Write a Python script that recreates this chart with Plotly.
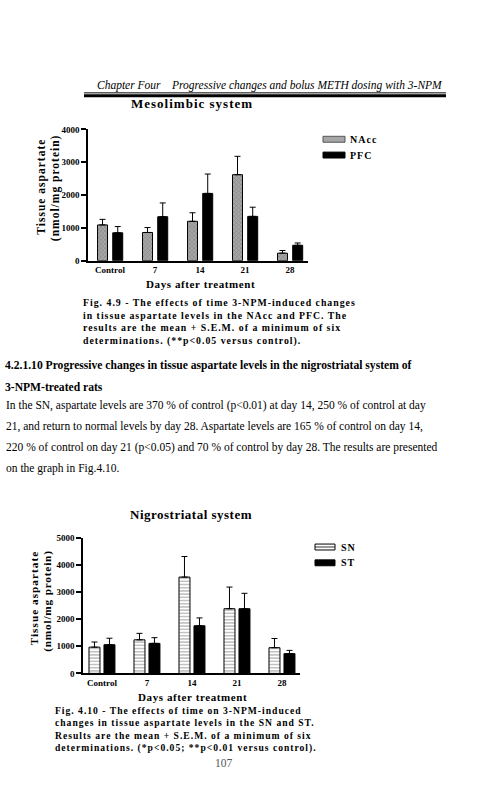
import plotly.graph_objects as go

W, H = 500, 786
SERIF = "Liberation Serif, Times New Roman, serif"

# ---------------- data ----------------
days = ["Control", "7", "14", "21", "28"]

nacc = [1090, 860, 1200, 2620, 230]
nacc_sem = [170, 150, 260, 560, 80]
pfc = [850, 1340, 2050, 1350, 470]
pfc_sem = [190, 420, 590, 280, 70]

sn = [970, 1240, 3560, 2390, 950]
sn_sem = [190, 240, 760, 800, 340]
st = [1060, 1110, 1760, 2390, 730]
st_sem = [240, 210, 290, 570, 120]

y1_ticks = [0, 1000, 2000, 3000, 4000]
y2_ticks = [0, 1000, 2000, 3000, 4000, 5000]


def px(x):
    return x / W


def py(y):
    return 1 - y / H


def spaced(s, ls=1.0):
    return '<span style="letter-spacing:%spx">%s</span>' % (ls, s)


fig = go.Figure()

err_style = dict(type="data", symmetric=False, color="black", thickness=1, width=3)

# ---- chart 1 (Mesolimbic) ----
fig.add_trace(go.Bar(
    x=days, y=nacc, name="NAcc", xaxis="x", yaxis="y",
    width=0.222, offset=-0.278,
    marker=dict(color="#a6a6a6", line=dict(color="black", width=1),
                pattern=dict(shape="x", fgcolor="#555555", size=3, solidity=0.3)),
    error_y=dict(array=nacc_sem, arrayminus=[0] * 5, **err_style),
    showlegend=False))
fig.add_trace(go.Bar(
    x=days, y=pfc, name="PFC", xaxis="x", yaxis="y",
    width=0.222, offset=0.06,
    marker=dict(color="black", line=dict(color="black", width=1)),
    error_y=dict(array=pfc_sem, arrayminus=[0] * 5, **err_style),
    showlegend=False))

# ---- chart 2 (Nigrostriatal) ----
fig.add_trace(go.Bar(
    x=days, y=sn, name="SN", xaxis="x2", yaxis="y2",
    width=0.244, offset=-0.289,
    marker=dict(color="white", line=dict(color="black", width=1),
                pattern=dict(shape="-", fgcolor="#333333", bgcolor="white", size=3.2, solidity=0.3)),
    error_y=dict(array=sn_sem, arrayminus=[0] * 5, **err_style),
    showlegend=False))
fig.add_trace(go.Bar(
    x=days, y=st, name="ST", xaxis="x2", yaxis="y2",
    width=0.244, offset=0.044,
    marker=dict(color="black", line=dict(color="black", width=1)),
    error_y=dict(array=st_sem, arrayminus=[0] * 5, **err_style),
    showlegend=False))

tickfont = dict(family=SERIF, size=9, color="black", weight="bold")
axis_common = dict(showgrid=False, zeroline=False, showline=True, linecolor="black",
                   linewidth=1.5, tickfont=tickfont, fixedrange=True)

fig.update_layout(
    width=W, height=H, margin=dict(l=0, r=0, t=0, b=0),
    paper_bgcolor="white", plot_bgcolor="white",
    barmode="overlay",
    xaxis=dict(domain=[px(88), px(308)], anchor="y", type="category",
               range=[-0.49, 4.4], ticks="", **axis_common),
    yaxis=dict(domain=[py(259), py(126)], anchor="x", range=[0, 4000],
               tickvals=y1_ticks, ticks="outside", ticklen=5, tickwidth=1.5,
               tickcolor="black", **axis_common),
    xaxis2=dict(domain=[px(83), px(300)], anchor="y2", type="category",
                range=[-0.422, 4.4], ticks="", **axis_common),
    yaxis2=dict(domain=[py(677), py(540)], anchor="x2", range=[0, 5000],
                tickvals=y2_ticks, ticks="outside", ticklen=5, tickwidth=1.5,
                tickcolor="black", **axis_common),
)

ann = []


def text(x, y, s, size=11, bold=True, italic=False, xanchor="left", angle=0, color="black"):
    ann.append(dict(
        x=px(x), y=py(y), xref="paper", yref="paper", text=s, showarrow=False,
        xanchor=xanchor, yanchor="middle", textangle=angle, align="left",
        font=dict(family=SERIF, size=size, color=color,
                  weight="bold" if bold else "normal",
                  style="italic" if italic else "normal")))


# header
text(95, 82, "Chapter Four", size=11.5, bold=False, italic=True)
text(445, 82, "Progressive changes and bolus METH dosing with 3-NPM", size=11.5, bold=False,
     italic=True, xanchor="right")

# chart 1 texts
text(192, 100, spaced("Mesolimbic system", 1.0), size=13, xanchor="center")
text(42, 184, spaced("Tissue aspartate", 1.0), size=11.5, xanchor="center", angle=-90)
text(55.5, 185, spaced("(nmol/mg protein)", 1.0), size=11.5, xanchor="center", angle=-90)
text(200, 283, spaced("Days after treatment", 0.6), size=11, xanchor="center")
text(348, 136, spaced("NAcc", 1.0), size=10)
text(348, 152, spaced("PFC", 1.0), size=10)

cap1 = ["Fig. 4.9 - The effects of time 3-NPM-induced changes",
        "in tissue aspartate levels in the NAcc and PFC. The",
        "results are the mean + S.E.M. of a minimum of six",
        "determinations. (**p<0.05 versus control)."]
text(81, 321, "<br>".join(spaced(s, 1.0) for s in cap1), size=9.8)

text(3, 365, "4.2.1.10 Progressive changes in tissue aspartate levels in the nigrostriatal system of", size=11.6)
text(3, 387, "3-NPM-treated rats", size=11.6)
body = ["In the SN, aspartate levels are 370 % of control (p<0.01) at day 14, 250 % of control at day",
        "21, and return to normal levels by day 28. Aspartate levels are 165 % of control on day 14,",
        "220 % of control on day 21 (p<0.05) and 70 % of control by day 28. The results are presented",
        "on the graph in Fig.4.10."]
for i, s in enumerate(body):
    text(4, 406 + i * 21, s, size=11.5, bold=False)

# chart 2 texts
text(191, 516, spaced("Nigrostriatal system", 0.5), size=13, xanchor="center")
text(34, 601, spaced("Tissue aspartate", 1.0), size=11.3, xanchor="center", angle=-90)
text(47.5, 604, spaced("(nmol/mg protein)", 0.8), size=11.3, xanchor="center", angle=-90)
text(192, 701, spaced("Days after treatment", 0.6), size=11, xanchor="center")
text(339, 549, spaced("SN", 1.0), size=10)
text(339, 565, spaced("ST", 1.0), size=10)

cap2 = ["Fig. 4.10 - The effects of time on 3-NPM-induced",
        "changes in tissue aspartate levels in the SN and ST.",
        "Results are the mean + S.E.M. of a minimum of six",
        "determinations. (*p<0.05; **p<0.01 versus control)."]
text(53, 733.5, "<br>".join(spaced(s, 1.0) for s in cap2), size=9.6)

text(224, 768, "107", size=11.5, bold=False, xanchor="center", color="#555555")

# significance stars (data coordinates)
ann.append(dict(x="21", y=3330, xref="x", yref="y", text="**", showarrow=False,
                xshift=-7.5, yanchor="middle", font=dict(family=SERIF, size=12, color="#555555")))
ann.append(dict(x="14", y=4560, xref="x2", yref="y2", text="**", showarrow=False,
                xshift=-7.5, yanchor="middle", font=dict(family=SERIF, size=12, color="#555555")))
ann.append(dict(x="21", y=3130, xref="x2", yref="y2", text="*", showarrow=False,
                xshift=7.5, yanchor="middle", font=dict(family=SERIF, size=12, color="#555555")))

fig.update_layout(annotations=ann)

shapes = [
    # header double rule
    dict(type="line", xref="paper", yref="paper", x0=px(84), x1=px(446), y0=py(89), y1=py(89),
         line=dict(color="black", width=1)),
    dict(type="line", xref="paper", yref="paper", x0=px(84), x1=px(446), y0=py(92), y1=py(92),
         line=dict(color="black", width=3)),
    # legend swatches chart 1
    dict(type="rect", xref="paper", yref="paper", x0=px(323), x1=px(345), y0=py(139), y1=py(133),
         fillcolor="#a6a6a6", line=dict(color="#555555", width=1)),
    dict(type="rect", xref="paper", yref="paper", x0=px(323), x1=px(345), y0=py(155), y1=py(149),
         fillcolor="black", line=dict(color="black", width=1)),
    # legend swatches chart 2
    dict(type="rect", xref="paper", yref="paper", x0=px(315), x1=px(335), y0=py(552), y1=py(546),
         fillcolor="white", line=dict(color="black", width=1)),
    dict(type="line", xref="paper", yref="paper", x0=px(315), x1=px(335), y0=py(549), y1=py(549),
         line=dict(color="black", width=0.8)),
    dict(type="rect", xref="paper", yref="paper", x0=px(315), x1=px(335), y0=py(568), y1=py(562),
         fillcolor="black", line=dict(color="black", width=1)),
]
fig.update_layout(shapes=shapes)

fig.write_html("out.html")
